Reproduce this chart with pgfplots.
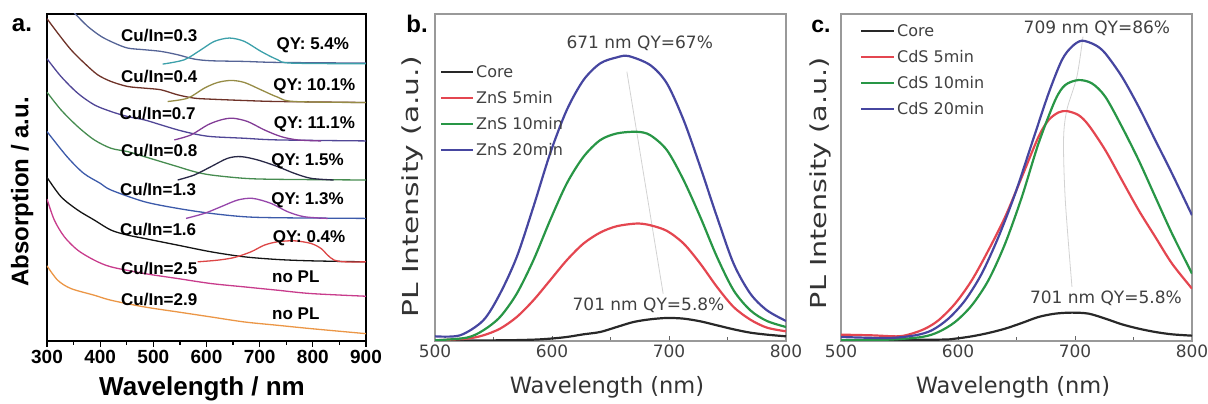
\documentclass[border=0pt]{standalone}
\usepackage{pgfplots}
\pgfplotsset{compat=1.18}
\usepackage{graphicx}
\usepackage{fontspec}
\setmainfont{DejaVu Sans}
\newfontfamily\lsans{Liberation Sans}
\newcommand{\fs}[1]{\fontsize{#1pt}{#1pt}\selectfont}
\definecolor{cA03}{RGB}{85,100,150}
\definecolor{cP03}{RGB}{60,160,170}
\definecolor{cA04}{RGB}{110,50,40}
\definecolor{cP04}{RGB}{150,140,70}
\definecolor{cA07}{RGB}{80,70,150}
\definecolor{cP07}{RGB}{130,60,150}
\definecolor{cA08}{RGB}{70,140,80}
\definecolor{cP08}{RGB}{40,40,70}
\definecolor{cA13}{RGB}{60,90,170}
\definecolor{cP13}{RGB}{150,70,170}
\definecolor{cA16}{RGB}{20,20,20}
\definecolor{cP16}{RGB}{220,70,70}
\definecolor{cA25}{RGB}{200,60,140}
\definecolor{cA29}{RGB}{235,150,70}
\definecolor{cK}{RGB}{40,40,40}
\definecolor{cR}{RGB}{228,70,80}
\definecolor{cG}{RGB}{40,150,70}
\definecolor{cB}{RGB}{70,70,160}
\begin{document}
\begin{tikzpicture}
\path[use as bounding box] (0,0) rectangle (1208pt,404pt);
% ---------------- panel a
\begin{axis}[
  at={(47pt,63pt)}, anchor=south west, scale only axis,
  width=319pt, height=327pt,
  xmin=300, xmax=900, ymin=0, ymax=979,
  axis line style={line width=1.8pt, black},
  xtick={300,400,...,900}, minor xtick={350,450,...,850},
  ytick=\empty,
  tick align=outside, xtick pos=left,
  major tick length=6pt, minor tick length=4pt,
  tick style={black, line width=1.3pt},
  /pgf/number format/assume math mode=true,
  xticklabel style={font=\lsans\bfseries\fs{19}},
  xlabel={Wavelength / nm},
  xlabel style={font=\lsans\bfseries\fs{26}, at={(axis description cs:0.486,-0.166)}, anchor=base},
  ylabel={Absorption / a.u.},
  ylabel style={font=\lsans\bfseries\fs{24}, at={(axis description cs:-0.078,0.456)}, anchor=center},
  every axis plot/.append style={line width=1.3pt, smooth},
]
\addplot[cA03] coordinates {(350,985)(354.5,977)(376.5,942)(401.6,912)(426.7,892)(451.7,877)(483.1,872)(514.4,867)(545.8,857)(577.1,844)(608.5,839)(671.2,837)(733.9,834)(900,832)};
\addplot[cP03] coordinates {(517.6,829)(558.3,842)(589.7,872)(614.8,897)(643.0,907)(671.2,897)(702.5,867)(733.9,842)(759.0,832)(900,830)};
\addplot[cA04] coordinates {(300,965)(320.1,922)(345.1,872)(370.2,832)(395.3,797)(420.4,777)(451.7,762)(483.1,757)(514.4,752)(545.8,737)(577.1,727)(608.5,724)(671.2,720)(733.9,717)(900,714)};
\addplot[cP04] coordinates {(527.0,717)(564.6,727)(595.9,757)(621.0,774)(646.1,780)(671.2,774)(702.5,752)(733.9,730)(765.2,717)(900,714)};
\addplot[cA07] coordinates {(300,845)(326.3,792)(357.7,742)(389.0,707)(420.4,687)(451.7,672)(483.1,662)(514.4,647)(545.8,632)(577.1,620)(608.5,612)(671.2,607)(733.9,602)(900,599)};
\addplot[cP07] coordinates {(539.5,602)(570.9,617)(602.2,647)(627.3,662)(649.2,667)(677.4,657)(708.8,632)(740.2,612)(771.5,602)(815.4,599)};
\addplot[cA08] coordinates {(300,745)(326.3,692)(357.7,642)(389.0,602)(420.4,577)(451.7,567)(483.1,552)(514.4,537)(545.8,522)(577.1,507)(608.5,497)(671.2,487)(733.9,484)(900,482)};
\addplot[cP08] coordinates {(545.8,482)(577.1,497)(608.5,522)(639.8,547)(664.9,552)(696.3,542)(733.9,522)(765.2,502)(796.6,487)(839.2,482)};
\addplot[cA13] coordinates {(300,627)(337.6,552)(369,502)(400.3,472)(420.4,452)(483.1,417)(545.8,397)(608.5,382)(671.2,372)(733.9,369)(900,367)};
\addplot[cP13] coordinates {(561.5,367)(595.9,382)(627.3,402)(658.6,422)(686.9,427)(721.3,412)(752.7,387)(784.0,372)(827.9,367)};
\addplot[cA16] coordinates {(300,490)(326.3,432)(357.7,392)(389.0,362)(420.4,332)(451.7,317)(483.1,307)(545.8,287)(608.5,267)(671.2,252)(733.9,244)(796.6,240)(900,237)};
\addplot[cP16] coordinates {(583.4,237)(621.0,242)(652.4,250)(683.7,267)(708.8,287)(733.9,297)(765.2,300)(796.6,292)(815.4,277)(827.9,257)(840.4,242)(859.3,237)(900,237)};
\addplot[cA25] coordinates {(300,425)(313.8,362)(332.6,312)(357.7,272)(389.0,242)(420.4,222)(483.1,202)(545.8,187)(608.5,172)(671.2,162)(733.9,152)(796.6,142)(900,134)};
\addplot[cA29] coordinates {(300,225)(320.1,182)(345.1,157)(389.0,137)(420.4,122)(483.1,102)(545.8,87)(608.5,72)(671.2,57)(733.9,47)(796.6,37)(900,22)};
\begin{scope}[every node/.style={font=\lsans\bfseries\fs{17}, inner sep=0pt}]
\node at (axis cs:511,914) {Cu/In=0.3};
\node at (axis cs:511,792) {Cu/In=0.4};
\node at (axis cs:508,680) {Cu/In=0.7};
\node at (axis cs:511,570) {Cu/In=0.8};
\node at (axis cs:509,455) {Cu/In=1.3};
\node at (axis cs:509,333) {Cu/In=1.6};
\node at (axis cs:511,217) {Cu/In=2.5};
\node at (axis cs:511,124) {Cu/In=2.9};
\node at (axis cs:800,886) {QY: 5.4\%};
\node at (axis cs:803,762) {QY: 10.1\%};
\node at (axis cs:803,648) {QY: 11.1\%};
\node at (axis cs:790,537) {QY: 1.5\%};
\node at (axis cs:790,422) {QY: 1.3\%};
\node at (axis cs:793,308) {QY: 0.4\%};
\node at (axis cs:768,191) {no PL};
\node at (axis cs:768,82) {no PL};
\end{scope}
\end{axis}
\node[font=\lsans\bfseries\fs{24}] at (22pt,379pt) {a.};
% ---------------- panel b
\begin{axis}[
  at={(435pt,63pt)}, anchor=south west, scale only axis,
  width=351pt, height=327pt,
  xmin=500, xmax=800, ymin=0, ymax=980,
  axis line style={line width=1.2pt, black!40},
  xtick={500,600,700,800}, minor xtick={550,650,750},
  xticklabels={{\raisebox{-1pt}{500}},{\raisebox{-10pt}{600}},{\raisebox{-6pt}{700}},{\raisebox{1pt}{800}}},
  ytick=\empty,
  tick align=inside, xtick pos=left,
  major tick length=5pt, minor tick length=4pt,
  tick style={black!60, line width=1pt},
  xticklabel style={font=\fs{17}, text=black!75},
  xlabel={Wavelength (nm)},
  xlabel style={font=\fs{22.5}, text=black!80, at={(axis description cs:0.49,-0.141)}, anchor=center},
  ylabel={\scalebox{1.35}[1]{PL Intensity (a.u.)}},
  ylabel style={font=\fs{22}, text=black!80, at={(axis description cs:-0.063,0.471)}, anchor=center},
  every axis plot/.append style={line width=2.2pt, smooth},
  legend style={at={(axis description cs:0.014,0.85)}, anchor=north west, draw=none, fill=none,
    font=\fs{16}, text=black!75, row sep=8.5pt, inner sep=0pt},
  legend image code/.code={\draw[#1, line width=2pt] (0pt,0pt) -- (32pt,0pt);},
  legend cell align=left,
]
\addplot[gray!35, line width=0.8pt, forget plot] coordinates {(664,807)(695,142)};
\addplot[cK] coordinates {(500,2)(555.6,2)(584.1,4)(598.4,7)(612.6,12)(626.9,20)(641.2,27)(655.4,42)(669.7,57)(683.9,65)(698.2,69)(712.5,67)(726.7,59)(741.0,47)(755.2,35)(769.5,25)(783.7,19)(800,14)};
\addlegendentry{Core}
\addplot[cR] coordinates {(500,2)(527.1,7)(541.3,17)(555.6,37)(569.9,72)(584.1,122)(598.4,182)(612.6,242)(626.9,292)(641.2,325)(655.4,344)(672.5,352)(683.9,347)(698.2,330)(712.5,292)(726.7,232)(741.0,162)(755.2,102)(769.5,64)(783.7,40)(800,29)};
\addlegendentry{ZnS 5min}
\addplot[cG] coordinates {(500,2)(527.1,10)(541.3,32)(555.6,72)(569.9,142)(584.1,242)(598.4,362)(612.6,472)(626.9,552)(641.2,602)(655.4,622)(672.5,627)(683.9,617)(698.2,572)(712.5,482)(726.7,372)(741.0,252)(755.2,152)(769.5,92)(783.7,60)(800,42)};
\addlegendentry{ZnS 10min}
\addplot[cB] coordinates {(500,14)(521.4,17)(541.3,62)(555.6,142)(569.9,252)(584.1,402)(598.4,562)(612.6,692)(626.9,782)(641.2,832)(655.4,850)(665.4,854)(683.9,827)(698.2,772)(712.5,662)(726.7,522)(741.0,372)(755.2,232)(769.5,142)(783.7,92)(800,60)};
\addlegendentry{ZnS 20min}
\node[font=\fs{17}, text=black!75] at (axis cs:675,892) {671 nm QY=67\%};
\node[font=\fs{17}, text=black!75] at (axis cs:682.5,107) {701 nm QY=5.8\%};
\end{axis}
\node[font=\lsans\bfseries\fs{24}] at (417pt,380pt) {b.};
% ---------------- panel c
\begin{axis}[
  at={(841pt,63pt)}, anchor=south west, scale only axis,
  width=351pt, height=327pt,
  xmin=500, xmax=800, ymin=0, ymax=980,
  axis line style={line width=1.2pt, black!40},
  xtick={500,600,700,800}, minor xtick={550,650,750},
  xticklabels={{\raisebox{-1pt}{500}},{\raisebox{-10pt}{600}},{\raisebox{-4pt}{700}},{\raisebox{1pt}{800}}},
  ytick=\empty,
  tick align=inside, xtick pos=left,
  major tick length=5pt, minor tick length=4pt,
  tick style={black!60, line width=1pt},
  xticklabel style={font=\fs{17}, text=black!75},
  xlabel={Wavelength (nm)},
  xlabel style={font=\fs{22.5}, text=black!80, at={(axis description cs:0.49,-0.141)}, anchor=center},
  ylabel={\scalebox{1.3}[1]{PL Intensity (a.u.)}},
  ylabel style={font=\fs{22}, text=black!80, at={(axis description cs:-0.06,0.483)}, anchor=center},
  every axis plot/.append style={line width=2.2pt, smooth},
  legend style={at={(axis description cs:0.054,0.975)}, anchor=north west, draw=none, fill=none,
    font=\fs{16}, text=black!75, row sep=8.5pt, inner sep=0pt},
  legend image code/.code={\draw[#1, line width=2pt] (0pt,0pt) -- (33pt,0pt);},
  legend cell align=left,
]
\addplot[gray!35, line width=0.8pt, forget plot] coordinates {(706.8,912)(701.6,792)(693,692)(690.2,602)(691.7,422)(697.4,162)};
\addplot[cK] coordinates {(500,2)(583.3,4)(597.5,7)(611.8,14)(626.0,24)(640.3,37)(654.6,54)(668.8,72)(683.1,82)(697.3,85)(711.6,82)(725.9,67)(740.1,50)(754.4,37)(768.6,27)(782.9,20)(800,16)};
\addlegendentry{Core}
\addplot[cR] coordinates {(500,19)(526.2,17)(549.0,14)(560.5,22)(571.9,37)(583.3,62)(597.5,112)(611.8,182)(626.0,272)(640.3,372)(654.6,492)(668.8,612)(677.4,662)(685.9,685)(693.1,689)(703.0,677)(711.6,647)(725.9,572)(740.1,482)(754.4,392)(768.6,312)(782.9,232)(800,157)};
\addlegendentry{CdS 5min}
\addplot[cG] coordinates {(500,2)(540.5,4)(569.0,12)(583.3,27)(597.5,57)(611.8,107)(626.0,182)(640.3,292)(654.6,432)(668.8,592)(683.1,722)(691.6,767)(703.0,782)(714.5,772)(725.9,732)(740.1,642)(754.4,542)(768.6,432)(782.9,322)(800,202)};
\addlegendentry{CdS 10min}
\addplot[cB] coordinates {(500,12)(540.5,9)(563.3,17)(577.6,32)(591.8,67)(606.1,122)(620.3,202)(634.6,312)(648.9,442)(663.1,592)(677.4,742)(688.8,842)(697.3,882)(705.9,900)(717.3,887)(725.9,862)(740.1,792)(754.4,702)(768.6,602)(782.9,502)(800,377)};
\addlegendentry{CdS 20min}
\node[font=\fs{17}, text=black!75] at (axis cs:718.7,937) {709 nm QY=86\%};
\node[font=\fs{17}, text=black!75] at (axis cs:726.4,127) {701 nm QY=5.8\%};
\end{axis}
\node[font=\lsans\bfseries\fs{23}] at (821pt,378pt) {c.};
\end{tikzpicture}
\end{document}
